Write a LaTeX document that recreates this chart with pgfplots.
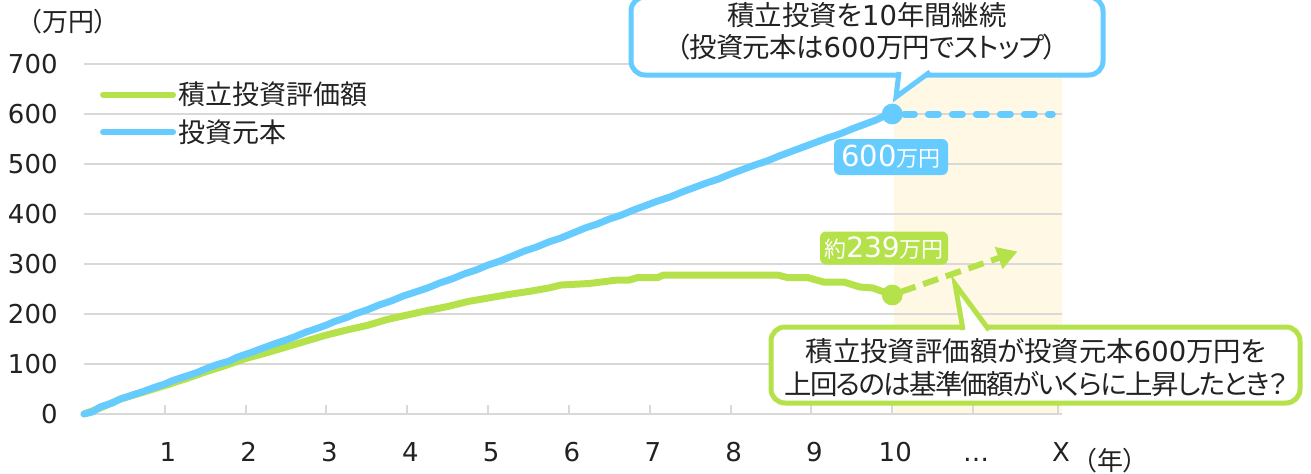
\documentclass[border=0pt]{standalone}
\usepackage{pgfplots}
\pgfplotsset{compat=1.18}
\usepackage{fontspec}
\setmainfont{DejaVu Sans}
\newfontfamily\jp[RawFeature=+palt]{Noto Sans CJK JP}
\newfontfamily\jpn[RawFeature=+palt, LetterSpace=-6]{Noto Sans CJK JP}
\newfontfamily\jpm[RawFeature=+palt, LetterSpace=-2.5]{Noto Sans CJK JP}
\usetikzlibrary{arrows.meta}
\definecolor{blueC}{HTML}{66CCFF}
\definecolor{greenC}{HTML}{B5E24B}
\definecolor{shadeC}{HTML}{FFF8E4}
\definecolor{gridC}{HTML}{D9D9D9}
\definecolor{txtC}{HTML}{222222}

\begin{document}
\begin{tikzpicture}
\begin{axis}[
  set layers=standard,
  at={(42pt,29.5pt)}, anchor=south west,
  scale only axis, width=489pt, height=175pt,
  xmin=0, xmax=12.10, ymin=0, ymax=700,
  clip=false,
  axis line style={draw=none},
  tick pos=left, tick align=inside,
  major tick length=4.5pt,
  xtick={1,2,3,4,5,6,7,8,9,10,11,12.05},
  xticklabels={1,2,3,4,5,6,7,8,9,10,…,X},
  ytick={0,100,200,300,400,500,600,700},
  ymajorgrids,
  grid style={draw=gridC, line width=1pt},
  xtick style={draw=gridC, line width=1pt},
  ytick style={draw=none},
  /pgf/number format/assume math mode=true,
  tick label style={font=\fontsize{13}{15}\selectfont, text=txtC},
  yticklabel style={anchor=east, inner sep=0pt, xshift=-13pt},
  xticklabel style={anchor=north, inner sep=0pt, text height=9.5pt, text depth=0pt, yshift=-14pt, xshift=1.5pt},
  legend style={at={(0.016,0.956)}, anchor=north west, draw=none, fill=none,
    font=\jp\fontsize{13.5}{15}\selectfont, text=txtC, row sep=4pt,
    inner sep=0pt, nodes={inner sep=1pt}},
  legend cell align=left,
  legend image code/.code={\draw[#1, line width=3pt, line cap=round] (0pt,0pt) -- (35pt,0pt);},
]
% shaded future region
\addplot[fill=shadeC, draw=none, forget plot, on layer=axis background]
  coordinates {(10.02,0) (12.10,0) (12.10,700) (10.02,700)} \closedcycle;

% valuation
\addplot[greenC, line width=3.5pt, line join=round, line cap=round] coordinates {
(0,0)(0.2,12)(0.45,30)(0.7,42)(1.0,57)(1.25,70)(1.5,84)(1.75,97)(2.0,111)(2.25,122)
(2.5,134)(2.75,146)(3.0,158)(3.25,168)(3.5,177)(3.75,189)(4.0,198)(4.25,207)(4.5,215)
(4.75,225)(5.0,232)(5.25,239)(5.5,245)(5.75,252)(5.9,258)(6.25,261)(6.6,268)(6.75,268)
(6.85,273)(7.1,273)(7.17,278)(8.58,278)(8.7,273)(8.95,273)(9.15,264)(9.4,264)(9.6,254)
(9.76,252)(10,238)};
\addlegendentry{積立投資評価額}

% principal
\addplot[blueC, line width=3.5pt, line join=round, line cap=round] coordinates {
(0,0)(0.1,4)(0.2,14)(0.35,22)(0.45,30)(0.6,38)(0.75,46)(0.85,52)(1.0,60)(1.1,67)
(1.25,75)(1.4,83)(1.5,90)(1.65,99)(1.8,106)(1.9,114)(2.05,122)(2.2,131)(2.35,140)
(2.5,148)(2.6,154)(2.75,164)(2.9,172)(3.0,178)(3.1,185)(3.25,193)(3.35,200)(3.5,208)
(3.65,218)(3.8,226)(3.95,236)(4.1,244)(4.25,252)(4.4,262)(4.55,270)(4.7,280)(4.85,288)
(5.0,298)(5.15,306)(5.3,316)(5.45,326)(5.6,334)(5.75,344)(5.9,352)(6.05,362)(6.2,372)
(6.35,380)(6.5,390)(6.65,398)(6.8,408)(6.95,417)(7.1,426)(7.25,434)(7.4,444)(7.55,453)
(7.7,462)(7.85,470)(8.0,480)(8.15,489)(8.3,498)(8.45,506)(8.6,516)(8.75,525)(8.9,534)
(9.05,543)(9.2,552)(9.35,560)(9.5,570)(9.65,579)(9.8,588)(9.9,596)(10,600)};
\addlegendentry{投資元本}

% stopped principal (dashed)
\addplot[blueC, line width=3.5pt, line cap=round, dash pattern=on 5pt off 7pt, forget plot]
  coordinates {(10.15,600)(11.98,600)};
% projected valuation arrow
\addplot[greenC, line width=3pt, dash pattern=on 8pt off 4pt, forget plot,
  -{Triangle[length=10pt,width=11pt]}]
  coordinates {(10.1,244)(11.55,325)};
% end points
\addplot[only marks, mark=*, mark size=5pt, blueC, forget plot] coordinates {(10,600)};
\addplot[only marks, mark=*, mark size=5pt, greenC, forget plot] coordinates {(10,238)};
\end{axis}

\begin{scope}[x=0.5pt, y=-0.5pt, shift={(0pt,236.5pt)}]
% axis unit labels
\node[font=\jp\fontsize{13}{15}\selectfont, text=txtC] at (68,22) {（万円）};
\node[font=\jp\fontsize{13}{15}\selectfont, text=txtC] at (1110,461) {（年）};

% value tags
\node[fill=blueC, text=white, rounded corners=3pt, minimum width=57pt, minimum height=18pt, inner sep=0pt]
  at (891,157) {\fontsize{14.5}{16}\selectfont 600{\jp\fontsize{11}{12}\selectfont 万円}};
\node[fill=greenC, text=white, rounded corners=3pt, minimum width=64pt, minimum height=16.5pt, inner sep=0pt]
  at (884,248) {{\jp\fontsize{11}{12}\selectfont 約}\fontsize{14}{16}\selectfont 239{\jp\fontsize{11}{12}\selectfont 万円}};

% top callout
\draw[blueC, line width=2.5pt, fill=white, rounded corners=7pt] (631,-3) rectangle (1103,75);
\filldraw[fill=white, draw=blueC, line width=2.5pt, line join=miter] (899,72) -- (896,97) -- (930,72);
\node[align=center, text=txtC, font=\fontsize{13.7}{16}\selectfont] at (867,31)
  {{\jp 積立投資を}10{\jp 年間継続}\\{\jpm （投資元本は}600{\jpm 万円でストップ）}};

% bottom callout
\draw[greenC, line width=2.5pt, fill=white, rounded corners=7pt] (771,327) rectangle (1300,403);
\filldraw[fill=white, draw=greenC, line width=2.5pt, line join=miter] (963,330) -- (955,284) -- (989,330);
\node[align=center, text=txtC, font=\fontsize{13.7}{16.5}\selectfont] at (1036,368)
  {{\jp 積立投資評価額が投資元本}600{\jp 万円を}\\{\jpn 上回るのは基準価額がいくらに上昇したとき？}};
\end{scope}
\pgfresetboundingbox
\path[use as bounding box] (0,0) rectangle (655.5pt,236.5pt);
\end{tikzpicture}
\end{document}
